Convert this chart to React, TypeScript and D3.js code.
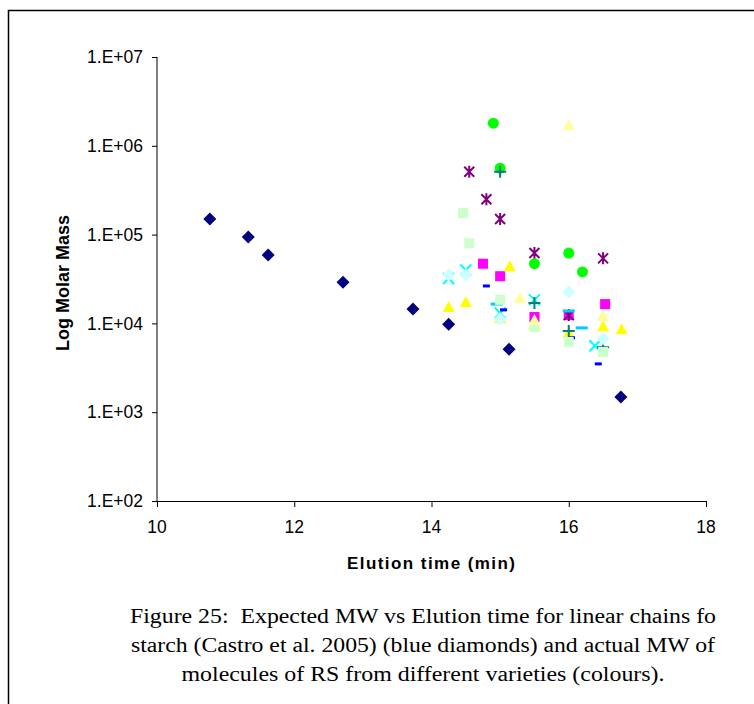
import React from "react";
import * as d3 from "d3";

// ---- data (elution time in min, molar mass) ----
const castro = [[10.77, 1.5e5], [11.33, 9.4e4], [11.62, 5.9e4], [12.71, 2.9e4], [13.73, 1.45e4], [14.25, 9.8e3], [15.13, 5.1e3], [16.76, 1.48e3]];
const magentaSq = [[14.75, 4.7e4], [15.0, 3.4e4], [15.5, 1.18e4], [16.0, 1.24e4], [16.53, 1.65e4]];
const yellowTri = [[15.14, 4.4e4], [14.25, 1.53e4], [14.5, 1.74e4], [16.5, 9.3e3], [16.77, 8.6e3], [16.0, 7.8e3], [15.0, 1.15e4], [15.5, 9.8e3]];
const cyanX = [[14.5, 4.0e4], [14.25, 3.2e4], [15.0, 1.31e4], [15.5, 1.84e4], [16.38, 5.6e3]];
const purpleStar = [[14.55, 5.1e5], [14.8, 2.5e5], [15.0, 1.5e5], [15.5, 6.2e4], [16.0, 1.24e4], [16.5, 5.4e4]];
const greenCircle = [[14.9, 1.8e6], [15.0, 5.6e5], [15.5, 4.7e4], [16.0, 6.2e4], [16.2, 3.8e4]];
const tealPlus = [[15.0, 5.1e5], [15.5, 1.7e4], [16.0, 8.2e3], [16.5, 5.4e3]];
const blueDash = [[14.8, 2.64e4], [15.05, 1.42e4], [16.04, 6.9e3], [16.43, 3.5e3]];
const skyDash = [[14.95, 1.65e4], [16.0, 1.38e4], [16.19, 8.9e3]];
const ltCyanDiamond = [[14.25, 3.5e4], [14.5, 3.5e4], [15.0, 1.12e4], [16.0, 2.26e4], [16.5, 6.7e3]];
const ltGreenSq = [[14.46, 1.75e5], [14.55, 8.0e4], [15.0, 1.84e4], [15.5, 9.1e3], [16.0, 6.2e3], [16.5, 4.76e3]];
const ltYellowTri = [[16.0, 1.7e6], [15.29, 1.93e4], [15.5, 1.09e4], [16.5, 1.21e4]];

const xTicks = [10, 12, 14, 16, 18];
const yTicks = [1e2, 1e3, 1e4, 1e5, 1e6, 1e7];
const yTickLabels = ["1.E+02", "1.E+03", "1.E+04", "1.E+05", "1.E+06", "1.E+07"];
const captionLines = [
  "Figure 25:  Expected MW vs Elution time for linear chains fo",
  "starch (Castro et al. 2005) (blue diamonds) and actual MW of",
  "molecules of RS from different varieties (colours).",
];
const captionWidths = [586, 584, 483];

const series = [
  { data: castro, shape: "diamond", color: "#000080" },
  { data: magentaSq, shape: "square", color: "#FF00FF" },
  { data: yellowTri, shape: "triangle", color: "#FFFF00" },
  { data: cyanX, shape: "x", color: "#00FFFF" },
  { data: purpleStar, shape: "star", color: "#800080" },
  { data: greenCircle, shape: "circle", color: "#00FF00" },
  { data: tealPlus, shape: "plus", color: "#008080" },
  { data: blueDash, shape: "dash", color: "#0000FF" },
  { data: skyDash, shape: "longdash", color: "#00CCFF" },
  { data: ltCyanDiamond, shape: "diamond", color: "#CCFFFF" },
  { data: ltGreenSq, shape: "square", color: "#CCFFCC" },
  { data: ltYellowTri, shape: "triangle", color: "#FFFF99" },
];

const W = 754, H = 704;
const x0 = 157, x1 = 706, y0 = 501, y1 = 57;

function Marker({ shape, color, cx, cy }: any) {
  const t = `translate(${cx},${cy})`;
  switch (shape) {
    case "diamond":
      return <path transform={t} d="M0,-6.5L6.5,0L0,6.5L-6.5,0Z" fill={color} />;
    case "square":
      return <rect transform={t} x={-5} y={-5} width={10} height={10} fill={color} />;
    case "triangle":
      return <path transform={t} d="M0,-6L6,5L-6,5Z" fill={color} />;
    case "circle":
      return <circle cx={cx} cy={cy} r={5.5} fill={color} />;
    case "x":
      return <path transform={t} d="M-5.5,-5.5L5.5,5.5M-5.5,5.5L5.5,-5.5" stroke={color} strokeWidth={2} fill="none" />;
    case "star":
      return <path transform={t} d="M-5,-5L5,5M-5,5L5,-5M0,-6L0,6" stroke={color} strokeWidth={2} fill="none" />;
    case "plus":
      return <path transform={t} d="M-6,0L6,0M0,-6L0,6" stroke={color} strokeWidth={2} fill="none" />;
    case "dash":
      return <rect transform={t} x={-3.5} y={-1.5} width={7} height={3} fill={color} />;
    case "longdash":
      return <rect transform={t} x={-6} y={-1.5} width={12} height={3} fill={color} />;
  }
  return null;
}

export default function App() {
  const xs = d3.scaleLinear().domain([10, 18]).range([x0, x1]);
  const ys = d3.scaleLog().domain([1e2, 1e7]).range([y0, y1]);
  return (
    <svg width={W} height={H} style={{ position: "absolute", left: 0, top: 0, background: "#fff" }}>
      <rect x={8.5} y={10.5} width={W + 20} height={H + 20} fill="#fff" stroke="#000" strokeWidth={1.5} />
      {/* axes */}
      <line x1={x0} x2={x0} y1={y1} y2={y0} stroke="#000" strokeWidth={1} />
      <line x1={x0} x2={x1} y1={y0 + 0.5} y2={y0 + 0.5} stroke="#000" strokeWidth={1} />
      {yTicks.map((v, i) => (
        <g key={"y" + i}>
          <line x1={x0 - 5} x2={x0} y1={ys(v) + 0.5} y2={ys(v) + 0.5} stroke="#000" />
          <text x={143} y={ys(v)} dy="0.35em" textAnchor="end" fontFamily="'Liberation Sans', Arial, sans-serif" fontSize={17.5}>
            {yTickLabels[i]}
          </text>
        </g>
      ))}
      {xTicks.map((v) => (
        <g key={"x" + v}>
          <line x1={xs(v) + 0.5} x2={xs(v) + 0.5} y1={y0} y2={y0 + 6} stroke="#000" />
          <text x={xs(v)} y={533} textAnchor="middle" fontFamily="'Liberation Sans', Arial, sans-serif" fontSize={17.5}>
            {v}
          </text>
        </g>
      ))}
      <text x={431} y={569} textAnchor="middle" fontFamily="'Liberation Sans', Arial, sans-serif" fontSize={17} fontWeight="bold" textLength={168} lengthAdjust="spacing">
        Elution time (min)
      </text>
      <text transform="translate(69,283) rotate(-90)" textAnchor="middle" fontFamily="'Liberation Sans', Arial, sans-serif" fontSize={18} fontWeight="bold">
        Log Molar Mass
      </text>
      {/* markers */}
      {series.map((s, si) => (
        <g key={"s" + si}>
          {s.data.map((d, di) => (
            <Marker key={di} shape={s.shape} color={s.color} cx={xs(d[0])} cy={ys(d[1])} />
          ))}
        </g>
      ))}
      {/* caption */}
      {captionLines.map((l, i) => (
        <text key={"c" + i} x={423} y={623 + i * 29} textAnchor="middle" fontFamily="'Liberation Serif', 'Times New Roman', serif" fontSize={20.5} textLength={captionWidths[i]} lengthAdjust="spacingAndGlyphs" style={{ whiteSpace: "pre" }}>
          {l}
        </text>
      ))}
    </svg>
  );
}
